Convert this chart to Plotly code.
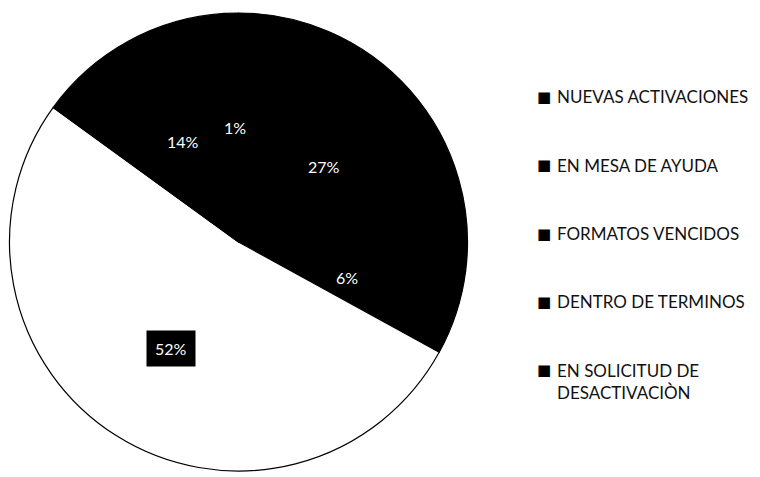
import math
import plotly.graph_objects as go

labels = ["NUEVAS ACTIVACIONES", "EN MESA DE AYUDA", "FORMATOS VENCIDOS",
          "DENTRO DE TERMINOS", "EN SOLICITUD DE<br>DESACTIVACIÒN"]
values = [27, 6, 52, 14, 1]
slice_colors = ["#000000", "#000000", "#ffffff", "#000000", "#000000"]

W, H = 760, 477
cx, cy, R = 230.5, 234.0, 229.0  # pixel geometry of pie (figure coords)

fig = go.Figure()
fig.add_trace(go.Pie(
    labels=labels, values=values, sort=False, direction="clockwise", rotation=0,
    marker=dict(colors=slice_colors, line=dict(color="#000000", width=1.2)),
    textinfo="none", hoverinfo="label+percent", showlegend=False,
    domain=dict(x=[(cx - R) / W, (cx + R) / W], y=[(H - cy - R) / H, (H - cy + R) / H]),
))

# percentage labels placed at slice mid-angles (derived from values)
total = sum(values)
cum = 0
annotations = []
for i, v in enumerate(values):
    mid = (cum + v / 2) / total * 2 * math.pi
    cum += v
    white = slice_colors[i] == "#ffffff"
    rf = 0.55 if white else 0.5
    px = cx + rf * R * math.sin(mid)
    py = cy - rf * R * math.cos(mid)
    pct = f"{round(v / total * 100)}%"
    annotations.append(dict(
        x=px / W, y=1 - py / H, xref="paper", yref="paper", text=pct, showarrow=False,
        xanchor="center", yanchor="middle",
        font=dict(family="Lato, Open Sans, sans-serif", size=16, color="#ffffff"),
        bgcolor="#000000" if white else "rgba(0,0,0,0)",
        borderpad=8 if white else 0,
    ))

# legend drawn as annotations (all markers black as in the scanned reference)
leg_x_marker, leg_x_text = 536, 547
leg_top, leg_step = 89, 68.3
for i, lab in enumerate(labels):
    yc = leg_top + i * leg_step
    annotations.append(dict(
        x=leg_x_marker / W, y=1 - yc / H, xref="paper", yref="paper", text="■",
        showarrow=False, xanchor="center", yanchor="middle",
        font=dict(family="DejaVu Sans", size=15, color="#000000")))
    annotations.append(dict(
        x=leg_x_text / W, y=1 - (yc - 12.5) / H, xref="paper", yref="paper", text=lab,
        showarrow=False, xanchor="left", yanchor="top", align="left",
        font=dict(family="Lato, Open Sans, sans-serif", size=17, color="#111111")))

fig.update_layout(
    width=W, height=H, margin=dict(l=0, r=0, t=0, b=0),
    paper_bgcolor="#ffffff", plot_bgcolor="#ffffff",
    annotations=annotations,
)
fig.write_html("out.html")
